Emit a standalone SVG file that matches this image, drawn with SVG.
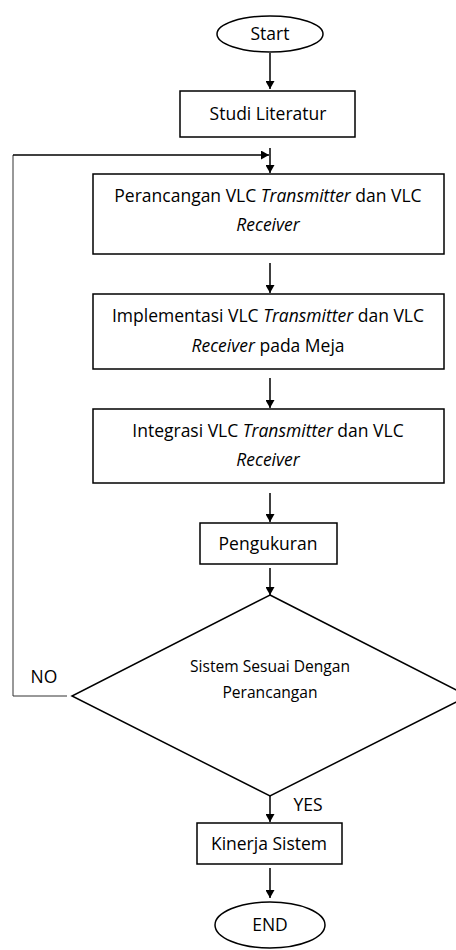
<svg xmlns="http://www.w3.org/2000/svg" width="456" height="950" viewBox="0 0 456 950">
<style>
.s{fill:#fff;stroke:#000;stroke-width:1.5}
.t{font-family:"Open Sans","Noto Sans","Liberation Sans",sans-serif;font-size:17.5px;fill:#000;text-anchor:middle}
.i{font-style:italic}
.c{stroke:#000;stroke-width:1.5;fill:none}
.l{stroke:#333;stroke-width:1;fill:none}
</style>
<defs>
<marker id="b" viewBox="0 0 10 10" refX="10" refY="5" markerWidth="8" markerHeight="9" orient="auto" markerUnits="userSpaceOnUse" preserveAspectRatio="none">
<path d="M0,0 L10,5 L0,10 z" fill="#000"/>
</marker>
</defs>
<rect width="456" height="950" fill="#fff"/>
<g id="connectors">
<line class="c" x1="270" y1="53" x2="270" y2="89" marker-end="url(#b)"/>
<line class="c" x1="270" y1="148" x2="270" y2="173" marker-end="url(#b)"/>
<polyline class="l" points="67,696 13,696 13,155"/>
<line class="c" x1="13" y1="155" x2="269" y2="155" marker-end="url(#b)"/>
<line class="c" x1="270" y1="263" x2="270" y2="293" marker-end="url(#b)"/>
<line class="c" x1="270" y1="378" x2="270" y2="408" marker-end="url(#b)"/>
<line class="c" x1="270" y1="493" x2="270" y2="522" marker-end="url(#b)"/>
<line class="c" x1="270" y1="568" x2="270" y2="595" marker-end="url(#b)"/>
<line class="c" x1="270" y1="796" x2="270" y2="822" marker-end="url(#b)"/>
<line class="c" x1="270" y1="868" x2="270" y2="898" marker-end="url(#b)"/>
<text class="t" x="44" y="683">NO</text>
<text class="t" x="308" y="811">YES</text>
</g>
<g id="start">
<ellipse class="s" cx="270" cy="34" rx="53" ry="18"/>
<text class="t" x="270" y="40">Start</text>
</g>
<g id="studi">
<rect class="s" x="180" y="91" width="175" height="46"/>
<text class="t" x="268" y="120">Studi Literatur</text>
</g>
<g id="perancangan">
<rect class="s" x="93" y="174" width="351" height="80"/>
<text class="t" x="268" y="202">Perancangan VLC <tspan class="i">Transmitter</tspan> dan VLC</text>
<text class="t i" x="268" y="231">Receiver</text>
</g>
<g id="implementasi">
<rect class="s" x="93" y="294" width="351" height="75"/>
<text class="t" x="268" y="322">Implementasi VLC <tspan class="i">Transmitter</tspan> dan VLC</text>
<text class="t" x="268" y="352"><tspan class="i">Receiver</tspan> pada Meja</text>
</g>
<g id="integrasi">
<rect class="s" x="93" y="409" width="351" height="74"/>
<text class="t" x="268" y="437">Integrasi VLC <tspan class="i">Transmitter</tspan> dan VLC</text>
<text class="t i" x="268" y="466">Receiver</text>
</g>
<g id="pengukuran">
<rect class="s" x="200" y="523" width="137" height="41"/>
<text class="t" x="268" y="550">Pengukuran</text>
</g>
<g id="decision">
<polygon class="s" points="270,595 468,696 270,796 72,696"/>
<text class="t" x="270" y="672" style="font-size:15.6px">Sistem Sesuai Dengan</text>
<text class="t" x="270" y="698" style="font-size:15.6px">Perancangan</text>
</g>
<g id="kinerja">
<rect class="s" x="197" y="823" width="145" height="41"/>
<text class="t" x="269" y="850">Kinerja Sistem</text>
</g>
<g id="end">
<ellipse class="s" cx="270" cy="925" rx="55" ry="23"/>
<text class="t" x="270" y="931">END</text>
</g>
</svg>
